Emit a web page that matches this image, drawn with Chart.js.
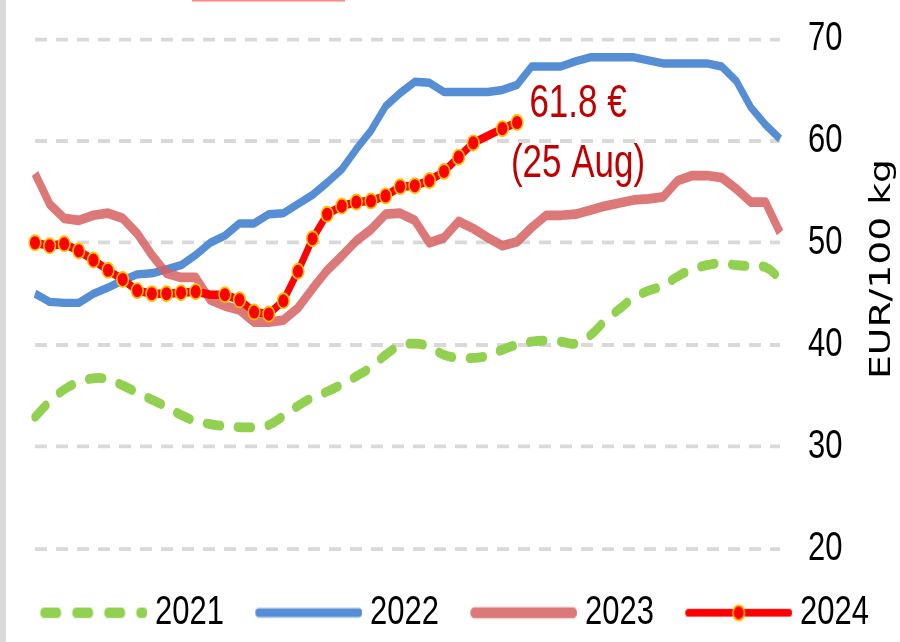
<!DOCTYPE html>
<html>
<head>
<meta charset="utf-8">
<script src="https://cdn.jsdelivr.net/npm/chart.js@4/dist/chart.umd.min.js"></script>
<style>
  html, body { margin: 0; padding: 0; background: #fff; }
  canvas { display: block; }
</style>
</head>
<body>
<canvas id="chart" width="900" height="494" style="width:900px;height:642px"></canvas>
<script>
// semaines
const weeks = [1,2,3,4,5,6,7,8,9,10,11,12,13,14,15,16,17,18,19,20,21,22,23,24,25,26,
               27,28,29,30,31,32,33,34,35,36,37,38,39,40,41,42,43,44,45,46,47,48,49,50,51,52];

const y2021 = [32.9,34.4,35.6,36.3,36.7,36.6,36.0,35.3,34.6,33.9,
               33.1,32.5,32.2,32.0,31.9,31.9,32.1,33.0,34.0,34.8,
               35.4,36.1,36.9,37.8,39.0,39.9,40.1,39.8,39.0,38.7,
               38.7,38.9,39.5,40.0,40.3,40.4,40.3,40.1,40.9,42.3,
               43.5,44.6,45.3,45.8,46.7,47.4,47.8,48.0,47.8,47.7,
               47.6,46.5];
const y2022 = [45.0,44.2,44.1,44.1,45.0,45.6,46.3,46.9,47.0,47.4,
               47.8,48.8,50.0,50.7,51.9,51.9,52.8,52.9,53.8,54.7,
               55.9,57.2,59.2,61.0,63.4,64.7,65.8,65.7,64.8,64.8,
               64.8,64.8,65.0,65.5,67.3,67.3,67.3,67.8,68.2,68.2,
               68.2,68.2,67.9,67.6,67.6,67.6,67.6,67.3,65.9,63.3,
               61.6,60.2];
const y2023 = [56.8,53.8,52.4,52.2,52.7,52.9,52.4,50.9,48.8,47.0,
               46.6,46.6,44.4,43.8,43.4,42.2,42.2,42.4,43.6,45.5,
               47.3,48.7,50.2,51.3,52.8,52.9,52.2,50.0,50.5,52.1,
               51.4,50.5,49.7,50.1,51.5,52.7,52.7,52.8,53.2,53.6,
               53.9,54.2,54.3,54.5,56.1,56.6,56.6,56.4,55.3,54.0,
               54.0,51.0];
const y2024 = [50.0,49.7,49.9,49.2,48.3,47.3,46.4,45.3,45.0,45.0,
               45.1,45.2,44.9,44.9,44.4,43.2,43.0,44.3,47.2,50.4,
               52.8,53.6,54.0,54.1,54.6,55.5,55.6,56.1,57.0,58.4,
               59.8,60.5,61.2,61.8];
// semaines sans marqueur sur la série 2024
const noMarker2024 = [12, 31];

const yTicks = [20, 30, 40, 50, 60, 70];
const yTitle = 'EUR/100 kg';
const noteValue = '61.8 €';
const noteDate = '(25 Aug)';

// le graphique est calculé sur 494 px de haut puis étiré verticalement à 642
const H0 = 494;
const STRETCH = 642 / H0;

const SANS = "'Liberation Sans', Arial, sans-serif";

const C2021 = '#92d050';
const C2022 = '#558ed5';
const C2023 = 'rgba(214,96,96,0.85)';
const C2024 = '#ff0000';
const CMARK = '#ffc000';

// échantillons de légende
function makeSample(color, width, dash, withMarker) {
    const c = document.createElement('canvas');
    c.width = 124; c.height = 18;
    const g = c.getContext('2d');
    g.strokeStyle = color;
    g.lineWidth = width;
    g.lineCap = 'round';
    g.setLineDash(dash);
    g.beginPath();
    g.moveTo(17 + width / 2, 9);
    g.lineTo(124 - width / 2, 9);
    g.stroke();
    if (withMarker) {
        g.setLineDash([]);
        g.beginPath();
        g.arc(70.5, 9, 5.8, 0, Math.PI * 2);
        g.fillStyle = C2024;
        g.fill();
        g.lineWidth = 1.5;
        g.strokeStyle = CMARK;
        g.stroke();
    }
    return c;
}

const samples = [
    makeSample(C2021, 7.8, [13, 19], false),
    makeSample(C2022, 6.8, [], false),
    makeSample('#dc7878', 8.5, [], false),
    makeSample(C2024, 6.2, [], true)
];

const decor = {
    id: 'decor',
    beforeDraw(chart) {
        const ctx = chart.ctx;
        ctx.save();
        ctx.setTransform(1, 0, 0, STRETCH, 0, 0);
        ctx.save();
        ctx.fillStyle = '#d9d9d9';
        ctx.fillRect(0, 0, 6, chart.height);
        ctx.fillStyle = '#ff8a8a';
        ctx.fillRect(192, 0, 153, 1.2);
        ctx.restore();
    },
    afterDraw(chart) {
        const ctx = chart.ctx;
        const xs = chart.scales.x, ys = chart.scales.y;
        const last = y2024.length - 1;
        const px = xs.getPixelForValue(last);
        const py = ys.getPixelForValue(y2024[last]);

        ctx.save();
        ctx.fillStyle = '#c00000';
        ctx.font = '35px ' + SANS;
        ctx.textAlign = 'center';
        ctx.textBaseline = 'alphabetic';
        ctx.fillText(noteValue, px + 61, py - 4);
        ctx.fillText(noteDate, px + 61, py + 42);
        ctx.restore();

        ctx.save();
        ctx.fillStyle = '#000';
        ctx.font = "29px 'DejaVu Sans', Verdana, sans-serif";
        ctx.textAlign = 'center';
        ctx.textBaseline = 'alphabetic';
        ctx.translate(890, 207);
        ctx.rotate(-Math.PI / 2);
        ctx.fillText(yTitle, 0, 0);
        ctx.restore();

        ctx.restore();
    }
};

const canvas = document.getElementById('chart');
const chart = new Chart(canvas, {
    type: 'line',
    data: {
        labels: weeks,
        datasets: [{
            label: '2021',
            data: y2021,
            yAxisID: 'y',
            borderColor: C2021,
            borderWidth: 7.5,
            borderDash: [14, 17],
            borderCapStyle: 'round',
            tension: 0.4,
            pointRadius: 0,
            order: 3
        }, {
            label: '2022',
            data: y2022,
            yAxisID: 'y',
            borderColor: C2022,
            borderWidth: 6.5,
            borderJoinStyle: 'round',
            pointRadius: 0,
            order: 2
        }, {
            label: '2023',
            data: y2023,
            yAxisID: 'y',
            borderColor: C2023,
            borderWidth: 7.5,
            borderJoinStyle: 'round',
            pointRadius: 0,
            order: 1
        }, {
            label: '2024',
            data: y2024,
            yAxisID: 'y',
            borderColor: C2024,
            borderWidth: 6.5,
            borderJoinStyle: 'round',
            pointStyle: 'circle',
            pointBackgroundColor: C2024,
            pointBorderColor: CMARK,
            pointBorderWidth: 1.5,
            pointRadius: ctx => noMarker2024.includes(ctx.dataIndex) ? 0 : 5.8,
            order: 0
        }]
    },
    options: {
        responsive: false,
        animation: false,
        layout: { padding: { top: 30, right: 0, bottom: -3, left: 0 } },
        plugins: {
            tooltip: { enabled: false },
            legend: {
                position: 'bottom',
                align: 'center',
                labels: {
                    usePointStyle: true,
                    pointStyleWidth: 108.5,
                    padding: 22,
                    color: '#000',
                    font: { family: SANS, size: 31 },
                    generateLabels(chart) {
                        return chart.data.datasets.map((ds, i) => ({
                            text: ds.label,
                            pointStyle: samples[i],
                            fillStyle: 'rgba(0,0,0,0)',
                            strokeStyle: 'rgba(0,0,0,0)',
                            lineWidth: 0,
                            hidden: false,
                            datasetIndex: i,
                            fontColor: '#000'
                        }));
                    }
                }
            }
        },
        scales: {
            y: {
                position: 'right',
                min: yTicks[0],
                max: yTicks[yTicks.length - 1],
                afterBuildTicks(s) { s.ticks = yTicks.map(v => ({ value: v })); },
                ticks: {
                    padding: 0,
                    color: '#000',
                    font: { family: SANS, size: 31 }
                },
                grid: {
                    color: '#d9d9d9',
                    lineWidth: 3,
                    drawTicks: true,
                    tickLength: 28,
                    tickWidth: 0,
                    tickColor: 'rgba(0,0,0,0)'
                },
                border: { display: false, dash: [12, 9] },
                afterFit(s) { s.width = 120; }
            },
            x: {
                type: 'category',
                offset: false,
                ticks: { display: false },
                grid: { display: false },
                border: { display: false },
                afterFit(s) { s.height = 12; }
            },
            yl: {
                type: 'linear',
                position: 'left',
                min: yTicks[0],
                max: yTicks[yTicks.length - 1],
                ticks: { display: false },
                grid: { display: false },
                border: { display: false },
                afterFit(s) { s.width = 35; }
            }
        }
    },
    plugins: [decor]
});

// bitmap à la taille finale, puis redessin étiré
canvas.height = 642;
chart.draw();
</script>
</body>
</html>
